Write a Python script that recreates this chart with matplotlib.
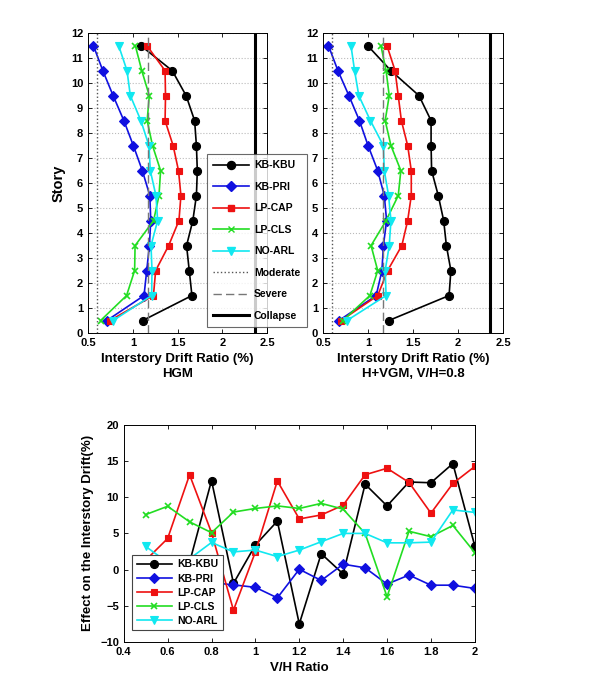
import matplotlib
matplotlib.use('Agg')
import matplotlib.pyplot as plt
from matplotlib.lines import Line2D

plt.rcParams['font.family'] = ['Liberation Sans', 'DejaVu Sans']
plt.rcParams['font.weight'] = 'bold'
plt.rcParams['axes.labelweight'] = 'bold'

stories = [0.5, 1.5, 2.5, 3.5, 4.5, 5.5, 6.5, 7.5, 8.5, 9.5, 10.5, 11.5]
names = ['KB-KBU', 'KB-PRI', 'LP-CAP', 'LP-CLS', 'NO-ARL']

# HGM drift ratios (%), story 0.5 -> 11.5
hgm_kbu = [1.11, 1.66, 1.63, 1.60, 1.67, 1.71, 1.72, 1.71, 1.69, 1.595, 1.44, 1.09]
hgm_pri = [0.71, 1.125, 1.155, 1.185, 1.20, 1.19, 1.106, 1.006, 0.90, 0.78, 0.665, 0.56]
hgm_cap = [0.745, 1.23, 1.255, 1.40, 1.515, 1.537, 1.51, 1.45, 1.36, 1.365, 1.36, 1.158]
hgm_cls = [0.64, 0.93, 1.02, 1.025, 1.232, 1.292, 1.31, 1.22, 1.16, 1.184, 1.10, 1.028]
hgm_arl = [0.78, 1.21, 1.214, 1.203, 1.277, 1.258, 1.195, 1.18, 1.09, 0.972, 0.935, 0.842]

# H+VGM, V/H=0.8
vgm_kbu = [1.23, 1.90, 1.92, 1.87, 1.84, 1.78, 1.706, 1.70, 1.70, 1.566, 1.254, 0.996]
vgm_pri = [0.676, 1.09, 1.154, 1.17, 1.206, 1.18, 1.107, 1.0, 0.904, 0.787, 0.665, 0.56]
vgm_cap = [0.70, 1.107, 1.217, 1.375, 1.44, 1.48, 1.48, 1.44, 1.37, 1.335, 1.30, 1.21]
vgm_cls = [0.72, 1.02, 1.107, 1.033, 1.20, 1.335, 1.364, 1.254, 1.19, 1.235, 1.20, 1.143]
vgm_arl = [0.765, 1.20, 1.19, 1.235, 1.254, 1.228, 1.18, 1.17, 1.026, 0.897, 0.85, 0.81]

moderate = 0.6
severe = 1.165
collapse = 2.36

# effect on interstory drift (%) vs V/H ratio
vh = [0.5, 0.6, 0.7, 0.8, 0.9, 1.0, 1.1, 1.2, 1.3, 1.4, 1.5, 1.6, 1.7, 1.8, 1.9, 2.0]
eff_kbu = [-1.0, 0.5, 1.0, 12.3, -1.9, 3.4, 6.7, -7.5, 2.2, -0.6, 11.8, 8.8, 12.1, 12.0, 14.65, 3.25]
eff_pri = [-3.0, -2.5, -2.0, -1.8, -2.1, -2.45, -3.9, 0.05, -1.5, 0.75, 0.25, -2.0, -0.75, -2.15, -2.15, -2.6]
eff_cap = [1.3, 4.3, 13.1, 5.1, -5.6, 2.45, 12.25, 7.0, 7.55, 8.9, 13.1, 14.0, 12.05, 7.8, 11.9, 14.25]
eff_cls = [7.6, 8.75, 6.6, 5.1, 7.95, 8.45, 8.8, 8.45, 9.15, 8.35, 5.0, -3.75, 5.3, 4.55, 6.1, 2.35]
eff_arl = [3.2, 1.0, 1.5, 3.75, 2.45, 2.7, 1.8, 2.7, 3.85, 5.0, 5.0, 3.7, 3.7, 3.8, 8.25, 7.9]

colors = ['black', '#1010e0', '#ee1111', '#22dd22', '#11e8f0']
markers = ['o', 'D', 's', 'x', 'v']
msizes = [5.8, 5.0, 5.0, 4.5, 6.0]


def style_axes(ax):
    ax.tick_params(direction='in', top=True, right=True, labelsize=8, length=3, width=0.6)
    for sp in ax.spines.values():
        sp.set_linewidth(0.7)
    for lab in ax.get_xticklabels() + ax.get_yticklabels():
        lab.set_fontweight('bold')


fig = plt.figure(figsize=(5.95, 6.83), dpi=100)
ax1 = fig.add_axes([0.148, 0.5124, 0.301, 0.439])
ax2 = fig.add_axes([0.543, 0.5124, 0.3025, 0.439])
ax3 = fig.add_axes([0.208, 0.060, 0.590, 0.318])

top_data = [
    (ax1, [hgm_kbu, hgm_pri, hgm_cap, hgm_cls, hgm_arl], 'Interstory Drift Ratio (%)\nHGM'),
    (ax2, [vgm_kbu, vgm_pri, vgm_cap, vgm_cls, vgm_arl], 'Interstory Drift Ratio (%)\nH+VGM, V/H=0.8'),
]

for ax, series, xlabel in top_data:
    for vals, c, m, ms in zip(series, colors, markers, msizes):
        ax.plot(vals, stories, color=c, marker=m, markersize=ms, linewidth=1.2,
                markeredgewidth=1.2 if m == 'x' else 0.8)
    ax.axvline(moderate, color='#555555', linestyle=':', linewidth=1.0)
    ax.axvline(severe, color='#777777', linestyle=(0, (6, 3)), linewidth=1.0)
    ax.axvline(collapse, color='black', linewidth=2.2)
    ax.set_xlim(0.5, 2.5)
    ax.set_ylim(0, 12)
    ax.set_xticks([0.5, 1, 1.5, 2, 2.5])
    ax.set_xticklabels(['0.5', '1', '1.5', '2', '2.5'])
    ax.set_yticks(range(13))
    ax.yaxis.grid(True, linestyle=':', color='#bbbbbb', linewidth=0.8)
    ax.set_xlabel(xlabel, fontsize=9.5, fontweight='bold', linespacing=1.3)
    style_axes(ax)

ax1.set_ylabel('Story', fontsize=10.5, fontweight='bold')

handles = [Line2D([], [], color=c, marker=m, markersize=ms, linewidth=1.2)
           for c, m, ms in zip(colors, markers, msizes)]
handles += [Line2D([], [], color='#555555', linestyle=':', linewidth=1.0),
            Line2D([], [], color='#777777', linestyle=(0, (6, 3)), linewidth=1.0),
            Line2D([], [], color='black', linewidth=2.2)]
labels = names + ['Moderate', 'Severe', 'Collapse']
leg = fig.legend(handles, labels, loc='upper left', bbox_to_anchor=(202 / 595, 1 - 149 / 683),
                 fontsize=7.5, frameon=True, fancybox=False, edgecolor='#444444',
                 handlelength=3.4, labelspacing=1.1, borderpad=0.6, handletextpad=0.5)
leg.get_frame().set_linewidth(0.8)
for t in leg.get_texts():
    t.set_fontweight('bold')

# bottom panel
for vals, c, m, ms, name in zip([eff_kbu, eff_pri, eff_cap, eff_cls, eff_arl], colors, markers, msizes, names):
    ax3.plot(vh, vals, color=c, marker=m, markersize=ms, linewidth=1.2, label=name,
             markeredgewidth=1.2 if m == 'x' else 0.8)
ax3.set_xlim(0.4, 2.0)
ax3.set_ylim(-10, 20)
ax3.set_xticks([0.4, 0.6, 0.8, 1.0, 1.2, 1.4, 1.6, 1.8, 2.0])
ax3.set_xticklabels(['0.4', '0.6', '0.8', '1', '1.2', '1.4', '1.6', '1.8', '2'])
ax3.set_yticks([-10, -5, 0, 5, 10, 15, 20])
ax3.set_xlabel('V/H Ratio', fontsize=9.5, fontweight='bold')
ax3.set_ylabel('Effect on the Interstory Drift(%)', fontsize=9.5, fontweight='bold')
style_axes(ax3)
leg3 = ax3.legend(loc='lower left', bbox_to_anchor=(0.01, 0.03), fontsize=7.5, frameon=True,
                  fancybox=False, edgecolor='#444444', handlelength=3.4, labelspacing=0.4,
                  borderpad=0.4, handletextpad=0.5, framealpha=1)
leg3.get_frame().set_linewidth(0.8)
for t in leg3.get_texts():
    t.set_fontweight('bold')

fig.savefig('out.png', dpi=100)
plt.close(fig)
